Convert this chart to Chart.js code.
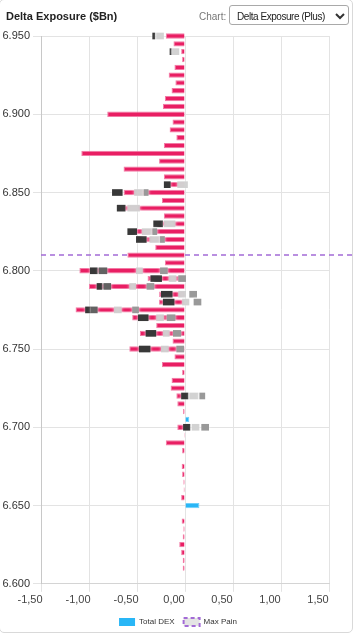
<!DOCTYPE html>
<html><head><meta charset="utf-8">
<script src="https://cdn.jsdelivr.net/npm/chart.js@4.4.1/dist/chart.umd.min.js"></script>
<style>
html,body{margin:0;padding:0;background:#fff;width:356px;height:636px;overflow:hidden;font-family:"Liberation Sans",Arial,sans-serif;}
#card{position:absolute;left:-1px;top:-1px;width:352px;height:632px;border:1px solid #d9d9d9;border-radius:5px;}
canvas{position:absolute;left:0;top:0;}
#title{position:absolute;left:6px;top:9px;font-size:11px;line-height:14px;font-weight:bold;color:#222;white-space:nowrap;}
#lbl{position:absolute;left:199px;top:9.5px;font-size:10px;line-height:14px;color:#777;}
#sel{position:absolute;left:229px;top:5px;width:118px;height:18px;border:1px solid #a9a9a9;border-radius:3px;background:#fff;}
#seltxt{position:absolute;left:7px;top:3.5px;font-size:10px;line-height:14px;color:#222;letter-spacing:-0.45px;white-space:nowrap;}
#chev{position:absolute;left:105px;top:6.5px;}
</style></head>
<body>
<div id="card"></div>
<canvas id="c" width="356" height="636"></canvas>
<div id="title">Delta Exposure ($Bn)</div>
<div id="lbl">Chart:</div>
<div id="sel"><div id="seltxt">Delta Exposure (Plus)</div>
<svg id="chev" width="10" height="7" viewBox="0 0 10 7"><polyline points="1,1 5,5 9,1" fill="none" stroke="#333" stroke-width="2"/></svg></div>
<script>
// Strike prices (categories)
const strikes = [
6.950,6.945,6.940,6.935,6.930,6.925,6.920,6.915,6.910,6.905,
6.900,6.895,6.890,6.885,6.880,6.875,6.870,6.865,6.860,6.855,
6.850,6.845,6.840,6.835,6.830,6.825,6.820,6.815,6.810,6.805,
6.800,6.795,6.790,6.785,6.780,6.775,6.770,6.765,6.760,6.755,
6.750,6.745,6.740,6.735,6.730,6.725,6.720,6.715,6.710,6.705,
6.700,6.695,6.690,6.685,6.680,6.675,6.670,6.665,6.660,6.655,
6.650,6.645,6.640,6.635,6.630,6.625,6.620,6.615,6.610,6.605,
6.600];

// Total DEX ($Bn) per strike
const totalDex = [
-0.20,-0.12,-0.04,-0.03,-0.11,-0.17,-0.10,-0.14,-0.21,-0.23,
-0.81,-0.13,-0.16,-0.09,-0.22,-1.08,-0.27,-0.64,-0.22,-0.20,
-0.64,-0.24,-0.64,-0.22,-0.28,-0.58,-0.48,-0.31,-0.60,-0.21,
-1.10,-0.39,-1.00,-0.27,-0.27,-1.14,-0.55,-0.30,-0.47,-0.13,
-0.58,-0.11,-0.24,-0.03,-0.14,-0.15,-0.09,-0.08,-0.02,0.045,
-0.08,-0.01,-0.20,-0.03,null,-0.035,-0.03,-0.017,-0.014,-0.04,
0.15,null,-0.035,-0.017,-0.024,-0.06,-0.04,-0.024,-0.024,null,
null];

// Expiry breakdown blocks: [strike, from, to]
const darkBlocks = [
[6.950,-0.34,-0.31],[6.940,-0.16,-0.14],[6.855,-0.22,-0.15],[6.850,-0.76,-0.65],
[6.840,-0.71,-0.62],[6.830,-0.33,-0.23],[6.825,-0.60,-0.50],[6.820,-0.51,-0.40],
[6.800,-0.99,-0.91],[6.795,-0.36,-0.24],[6.790,-0.92,-0.86],[6.785,-0.25,-0.13],
[6.780,-0.23,-0.11],[6.775,-1.04,-0.98],[6.770,-0.49,-0.38],[6.760,-0.41,-0.30],
[6.750,-0.48,-0.36],[6.720,-0.04,0.035],[6.700,-0.02,0.055]];
const midBlocks = [
[6.800,-0.90,-0.81],[6.790,-0.85,-0.77],[6.775,-0.98,-0.91]];
const lightBlocks = [
[6.950,-0.30,-0.22],[6.940,-0.135,-0.06],[6.855,-0.08,0.03],[6.850,-0.53,-0.43],
[6.840,-0.60,-0.47],[6.830,-0.22,-0.10],[6.825,-0.45,-0.34],[6.820,-0.37,-0.26],
[6.800,-0.51,-0.44],[6.795,-0.17,-0.09],[6.790,-0.58,-0.51],[6.785,-0.07,0.01],
[6.780,-0.03,0.045],[6.775,-0.74,-0.66],[6.770,-0.30,-0.22],[6.760,-0.23,-0.16],
[6.750,-0.25,-0.17],[6.720,0.045,0.14],[6.700,0.07,0.15]];
const grayBlocks = [
[6.850,-0.43,-0.38],[6.825,-0.34,-0.29],[6.820,-0.26,-0.21],[6.800,-0.26,-0.18],
[6.795,-0.07,0.01],[6.790,-0.40,-0.32],[6.785,0.045,0.125],[6.780,0.09,0.17],
[6.775,-0.55,-0.48],[6.770,-0.19,-0.10],[6.760,-0.125,-0.04],[6.750,-0.09,-0.01],
[6.720,0.15,0.21],[6.700,0.17,0.25]];

const maxPainStrike = 6.810;
const xTicks = {min:-1.5, max:1.5, step:0.5};
const yTicks = {min:6.6, max:6.95, step:0.05};

const PINK='#e91e63', PINK_B='#f27aa5', BLUE='#29b6f6', BLUE_B='#6fd0fa', PURPLE='#a36bd6';

const toBlocks = arr => arr.map(b => ({y:b[0], x:[b[1], b[2]]}));

const maxPainPlugin = {
  id:'maxPain',
  beforeDatasetsDraw(chart){
    const y = chart.scales.y.getPixelForValue(maxPainStrike);
    const c = chart.ctx; c.save();
    c.strokeStyle = PURPLE; c.lineWidth = 1.5; c.setLineDash([5,4]);
    c.beginPath(); c.moveTo(chart.chartArea.left, y); c.lineTo(chart.width, y); c.stroke();
    c.restore();
  }
};
const softPlugin = {
  id:'soft',
  beforeDatasetDraw(chart, args){
    if (chart.data.datasets[args.index].soft){
      chart.ctx.save();
      chart.ctx.shadowColor = 'rgba(255,255,255,1)';
      chart.ctx.shadowBlur = 3;
    }
  },
  afterDatasetDraw(chart, args){
    if (chart.data.datasets[args.index].soft) chart.ctx.restore();
  }
};
// center the legend on the whole canvas width
const legendCenter = {
  id:'legendCenter',
  afterLayout(chart){
    const lg = chart.legend;
    if (lg){ lg.left = 0; lg.right = chart.width; lg.width = chart.width; }
  }
};

const blockDs = (label, arr, color, order) => ({
  label, data: toBlocks(arr), backgroundColor: color, borderWidth: 0,
  categoryPercentage: 0.85, barPercentage: 1.0, order, clip: false, soft: true
});

Chart.defaults.font.family = '"Liberation Sans", Arial, sans-serif';

new Chart(document.getElementById('c'), {
  type: 'bar',
  data: {
    datasets: [
      {
        label: 'Total DEX',
        data: strikes.map((s,i) => ({y: s, x: totalDex[i]})),
        backgroundColor: totalDex.map(v => (v !== null && v > 0) ? BLUE : PINK),
        borderColor: totalDex.map(v => (v !== null && v > 0) ? BLUE_B : PINK_B),
        borderWidth: 1,
        categoryPercentage: 0.8, barPercentage: 0.85,
        order: 10, clip: false
      },
      blockDs('exp1', darkBlocks, '#383838', 4),
      blockDs('exp2', midBlocks, '#626262', 3),
      blockDs('exp3', lightBlocks, 'rgba(204,204,204,0.88)', 2),
      blockDs('exp4', grayBlocks, '#999999', 1),
      { type: 'line', label: 'Max Pain', data: [], borderColor: PURPLE, backgroundColor: '#e4e4e4', borderDash: [4,3], borderWidth: 2 }
    ]
  },
  options: {
    indexAxis: 'y',
    responsive: false,
    animation: false,
    datasets: { bar: { grouped: false } },
    layout: { padding: { top: 36, right: 27, left: 0, bottom: 0 } },
    scales: {
      x: {
        type: 'linear', min: xTicks.min, max: xTicks.max,
        ticks: { stepSize: xTicks.step, labelOffset: -11, padding: 2, color: '#444', font: { size: 11 },
          callback: v => (Math.abs(v) < 1e-9 ? 0 : v).toFixed(2).replace('.', ',') },
        grid: { color: '#e3e3e3', tickLength: 8 },
        border: { color: '#d4d4d4' }
      },
      y: {
        type: 'linear', min: yTicks.min, max: yTicks.max, offset: false,
        ticks: { stepSize: yTicks.step, color: '#333', font: { size: 11 }, callback: v => v.toFixed(3) },
        grid: { color: '#e3e3e3', tickLength: 8, offset: false },
        border: { color: '#c8c8c8' },
        afterFit(s) { s.width = 41; }
      }
    },
    plugins: {
      tooltip: { enabled: false },
      legend: {
        position: 'bottom',
        labels: {
          boxWidth: 16, boxHeight: 8, padding: 9, color: '#333', font: { size: 8 },
          generateLabels: chart => {
            const ds = chart.data.datasets;
            return [
              { text: ds[0].label, fillStyle: BLUE, strokeStyle: BLUE, lineWidth: 0, hidden: false, datasetIndex: 0, fontColor: '#333' },
              { text: ds[5].label, fillStyle: '#e4e4e4', strokeStyle: PURPLE, lineWidth: 2, lineDash: [4,3], hidden: false, datasetIndex: 5, fontColor: '#333' }
            ];
          }
        }
      }
    }
  },
  plugins: [maxPainPlugin, softPlugin, legendCenter]
});
</script>
</body></html>
